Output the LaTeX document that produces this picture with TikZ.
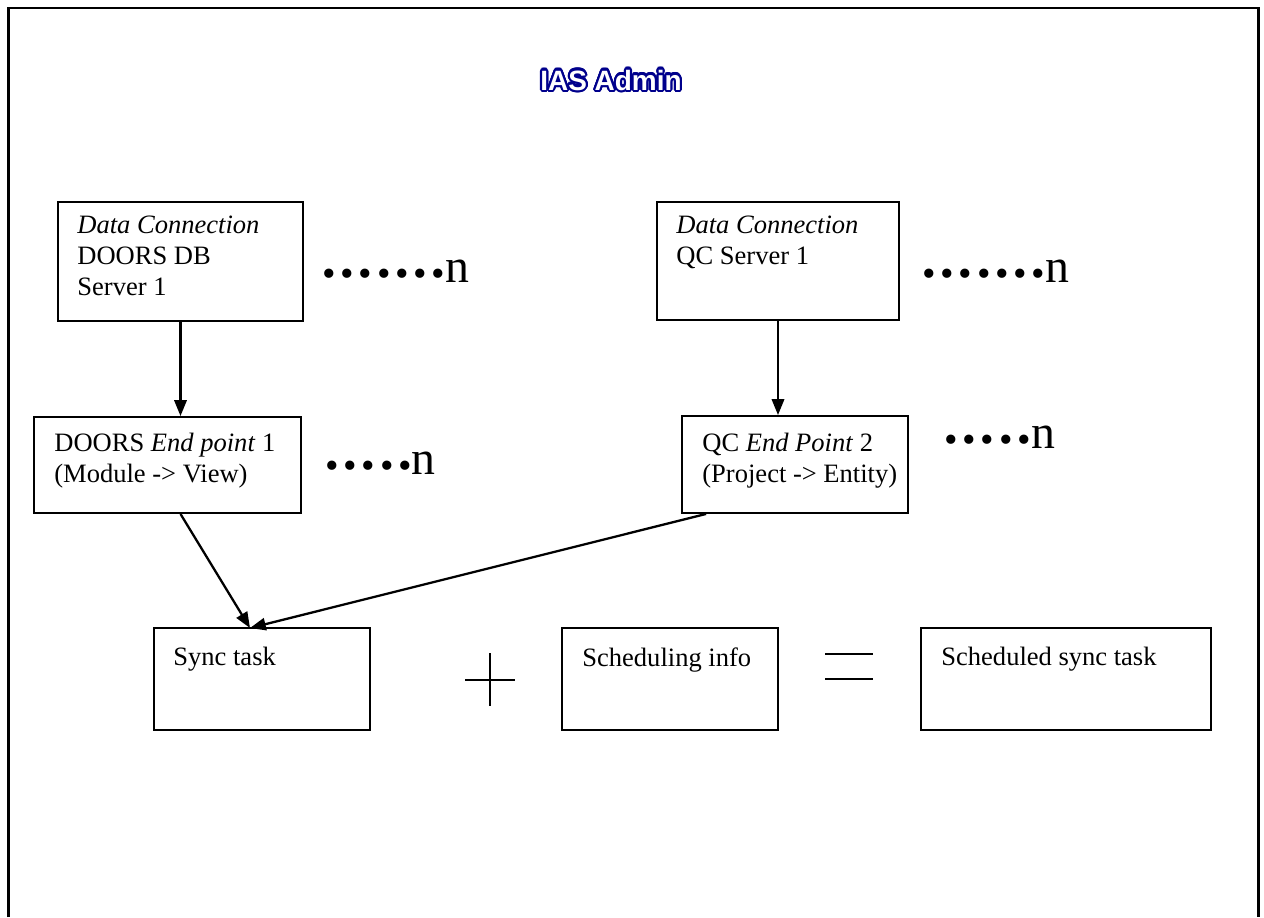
\documentclass[tikz,border=0pt]{standalone}
\usepackage{fontspec}
\setmainfont{Liberation Serif}
\newfontfamily\iasfont{Liberation Sans}
\usetikzlibrary{arrows.meta, positioning}
\definecolor{iasblue}{RGB}{0,0,140}

% one dot of the "......n" rows
\newcommand\smalldot{\raisebox{-2.7pt}{\fontsize{22pt}{22pt}\selectfont •}}
\newcommand\dotgap{\smalldot\hspace{2.7pt}}

\tikzset{
  box/.style={draw, line width=1.1pt, inner sep=0pt},
  boxtext/.style={inner sep=0pt, align=left, font=\fontsize{15.1pt}{17.6pt}\selectfont},
  moredots/.style={anchor=base west, inner sep=0pt, font=\fontsize{27.2pt}{30pt}\selectfont},
  flow/.style={line width=1.3pt, -{Triangle[length=9pt,width=7pt]}},
  heading/.style={anchor=base, inner sep=0pt, font=\iasfont\bfseries\fontsize{15.9pt}{18pt}\selectfont},
}

\begin{document}
\begin{tikzpicture}[x=0.02cm, y=-0.02cm]
        \useasboundingbox (0,0) rectangle (1264,917);
        % frame, open at the bottom
        \draw[line width=1.2pt] (8.5,917) -- (8.5,8) -- (1258.5,8) -- (1258.5,917);

        % outlined title
        \foreach \a [count=\i] in {0,22.5,...,337.5}
            \node[heading, text=iasblue] (ttl\i) at ([shift={(\a:2.2)}]611,90) {IAS Admin};
        \node[heading, text=white] (ttl) at (611,90) {IAS Admin};

        % data connections
        \node[box, minimum width=4.9cm, minimum height=2.38cm] (dcDoors) at (180.5,261.5) {};
        \node[boxtext, below right=0.3cm and 0.4cm of dcDoors.north west] (dcDoorsTxt) {\textit{Data Connection}\\DOORS DB\\Server 1};
        \node[box, minimum width=4.84cm, minimum height=2.36cm] (dcQC) at (778,261) {};
        \node[boxtext, below right=0.3cm and 0.4cm of dcQC.north west] (dcQCTxt) {\textit{Data Connection}\\QC Server 1};
        \node[moredots] (dotsA) at (322,282) {\dotgap\dotgap\dotgap\dotgap\dotgap\dotgap\smalldot n};
        \node[moredots] (dotsB) at (922,282) {\dotgap\dotgap\dotgap\dotgap\dotgap\dotgap\smalldot n};

        % end points
        \node[box, minimum width=5.34cm, minimum height=1.92cm] (epDoors) at (167.5,465) {};
        \node[boxtext, below right=0.34cm and 0.42cm of epDoors.north west] (epDoorsTxt) {DOORS \textit{End point} 1\\(Module -> View)};
        \node[box, minimum width=4.52cm, minimum height=1.94cm] (epQC) at (795,464.5) {};
        \node[boxtext, below right=0.36cm and 0.42cm of epQC.north west] (epQCTxt) {QC \textit{End Point} 2\\(Project -> Entity)};
        \node[moredots] (dotsC) at (325,474) {\dotgap\dotgap\dotgap\dotgap\smalldot n};
        \node[moredots] (dotsD) at (944,448) {\dotgap\dotgap\dotgap\dotgap\smalldot n};

        % tasks
        \node[box, minimum width=4.32cm, minimum height=2.04cm] (sync) at (262,679) {};
        \node[boxtext, below right=0.4cm and 0.4cm of sync.north west] (syncTxt) {Sync task};
        \node[box, minimum width=4.32cm, minimum height=2.04cm] (sched) at (670,679) {};
        \node[boxtext, below right=0.4cm and 0.42cm of sched.north west] (schedTxt) {Scheduling info};
        \node[box, minimum width=5.8cm, minimum height=2.04cm] (ssync) at (1066,679) {};
        \node[boxtext, below right=0.4cm and 0.42cm of ssync.north west] (ssyncTxt) {Scheduled sync task};

        \draw[line width=0.6pt] (465,680) -- (515,680) (490,653) -- (490,706);
        \draw[line width=0.6pt] (825,654) -- (873,654) (825,679) -- (873,679);

        \coordinate (syncIn) at (250,628);
        \draw[flow] (dcDoors.south) -- (dcDoors.south |- epDoors.north);
        \draw[flow] (dcQC.south) -- (dcQC.south |- epQC.north);
        \draw[flow] (epDoors.south -| dcDoors.south) -- (syncIn);
        \draw[flow] ([xshift=0.5cm]epQC.south west) -- (syncIn);
\end{tikzpicture}
\end{document}
